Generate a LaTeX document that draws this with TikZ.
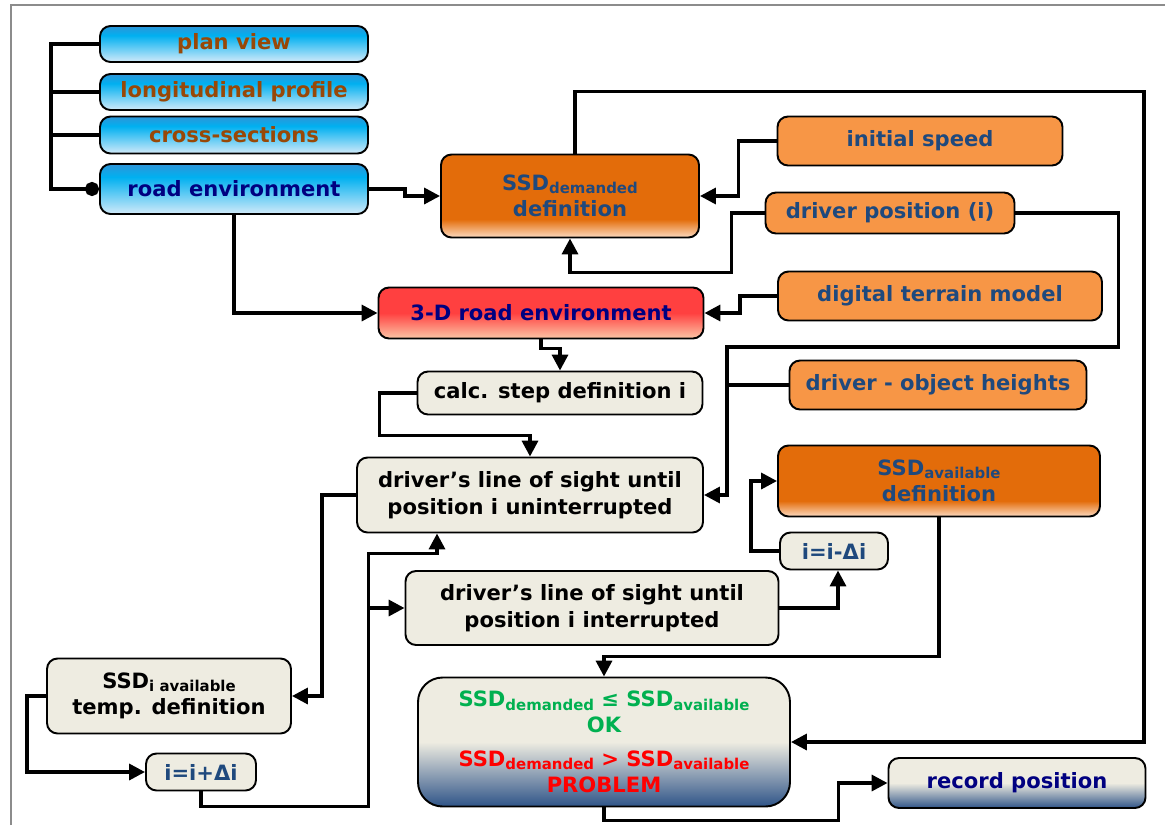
\documentclass[tikz,border=0pt]{standalone}
\usepackage{fontspec}
\setmainfont{DejaVu Sans}
\usetikzlibrary{arrows.meta, positioning, calc}

\definecolor{geomtop}{HTML}{2E95D8}
\definecolor{geommid}{HTML}{00B0F0}
\definecolor{geombot}{HTML}{D2EAF9}
\definecolor{dkorange}{HTML}{E36C0A}
\definecolor{ltorange}{HTML}{FCDAC0}
\definecolor{inorange}{HTML}{F79646}
\definecolor{redtop}{HTML}{FF4040}
\definecolor{redbot}{HTML}{FCC6A6}
\definecolor{beige}{HTML}{EEECE1}
\definecolor{steel}{HTML}{2F5488}
\definecolor{txtblue}{HTML}{1F497D}
\definecolor{txtnavy}{HTML}{000080}
\definecolor{brownish}{HTML}{984807}
\definecolor{okgreen}{HTML}{00B050}

\pgfdeclareverticalshading{bluefade}{100bp}{color(0bp)=(geombot); color(25bp)=(geombot); color(62bp)=(geommid); color(75bp)=(geomtop); color(100bp)=(geomtop)}
\pgfdeclareverticalshading{orangefade}{100bp}{color(0bp)=(ltorange); color(25bp)=(ltorange); color(36bp)=(dkorange); color(75bp)=(dkorange); color(100bp)=(dkorange)}
\pgfdeclareverticalshading{redfade}{100bp}{color(0bp)=(redbot); color(25bp)=(redbot); color(50bp)=(redtop); color(75bp)=(redtop); color(100bp)=(redtop)}
\pgfdeclareverticalshading{steelfade}{100bp}{color(0bp)=(steel); color(25bp)=(steel); color(50bp)=(beige); color(75bp)=(beige); color(100bp)=(beige)}

\newcommand{\ssub}[1]{\raisebox{-0.3ex}{\fontsize{8.5}{9}\selectfont #1}}

\begin{document}
\begin{tikzpicture}[x=0.02cm, y=-0.02cm,
    font=\fontsize{12}{15}\selectfont\bfseries,
    box/.style={draw, line width=1.1pt, rounded corners=6pt, align=center, inner sep=2pt},
    sz/.style 2 args={minimum width=#1*0.02cm, minimum height=#2*0.02cm},
    geom/.style={box, shading=bluefade, text=brownish},
    defbox/.style={box, shading=orangefade, text=txtblue},
    input/.style={box, fill=inorange, text=txtblue},
    calcbox/.style={box, fill=beige, text=black},
    wire/.style={line width=2pt},
    flow/.style={wire, -{Triangle[length=9pt,width=9pt]}}
  ]
  \useasboundingbox (0,0) rectangle (1165,825);
  \draw[black!45, line width=1pt] (11,825) -- (11,5) -- (1165,5);

  % road geometry inputs
  \node[geom, sz={268}{36}] (plan) at (234,44) {plan view};
  \node[geom, sz={268}{36}] (longprof) at (234,92) {longitudinal profile};
  \node[geom, sz={268}{37}] (cross) at (234,135) {cross-sections};
  \node[geom, sz={268}{50}, text=txtnavy] (roadenv) at (234,189) {road environment};

  % driver and terrain inputs
  \node[input, sz={285}{49}] (speed) at (920,141) {initial speed};
  \node[input, sz={249}{41}] (drvpos) at (890,213) {driver position (i)};
  \node[input, sz={324}{49}] (dtm) at (940,296) {digital terrain model};
  \node[input, sz={297}{49}] (heights) at (938,385) {driver - object heights};

  % definitions
  \node[defbox, sz={258}{83}] (ssddem) at (570,196) {SSD\ssub{demanded}\\definition};
  \node[box, shading=redfade, text=txtnavy, sz={325}{51}] (road3d) at (541,313) {3-D road environment};
  \node[defbox, sz={322}{71}] (ssdavail) at (939,481) {SSD\ssub{available}\\definition};

  % calculation loop
  \node[calcbox, sz={285}{43}] (calcstep) at (560,393) {calc. step definition i};
  \node[calcbox, sz={346}{75}] (uninter) at (530,495) {driver’s line of sight until\\position i uninterrupted};
  \node[calcbox, sz={373}{74}] (inter) at (592,608) {driver’s line of sight until\\position i interrupted};
  \node[calcbox, sz={108}{37}, text=txtblue] (idec) at (834,551) {i=i-Δi};
  \node[calcbox, sz={244}{75}] (tempdef) at (169,696) {SSD\ssub{i available}\\temp. definition};
  \node[calcbox, sz={110}{37}, text=txtblue] (iinc) at (201,772) {i=i+Δi};

  % check and output
  \node[box, shading=steelfade, rounded corners=14pt, sz={372}{129}] (check) at (604,742)
    {\textcolor{okgreen}{SSD\ssub{demanded} ≤ SSD\ssub{available}}\\\textcolor{okgreen}{OK}\\[4pt]
     \textcolor{red}{SSD\ssub{demanded} > SSD\ssub{available}}\\\textcolor{red}{PROBLEM}};
  \node[box, shading=steelfade, text=txtnavy, sz={257}{50}] (record) at (1017,783) {record position};

  % connectors
  \draw[wire, -{Circle[length=8pt]}] (plan.west) -- ++(-48,0) |- (roadenv.west);
  \draw[wire] (longprof.west) -- ++(-48,0);
  \draw[wire] (cross.west) -- ++(-48,0);
  \draw[flow] (roadenv.east) -- ++(36,0) |- (ssddem.west);
  \draw[flow] (roadenv.south) |- (road3d.west);
  \draw[flow] (speed.west) -- ++(-38,0) |- (ssddem.east);
  \draw[flow] (drvpos.west) -- ++(-33,0) |- ($(ssddem.south)+(0,34)$) -- (ssddem.south);
  \draw[flow] (drvpos.east) -- ++(103,0) -- ++(0,134) -| ($(uninter.east)+(23,0)$) -- (uninter.east);
  \draw[wire] (heights.west) -- ++(-64,0);
  \draw[flow] (dtm.west) -- ++(-37,0) |- (road3d.east);
  \draw[flow] ($(ssddem.north)+(5,0)$) -- ++(0,-62) -| ($(check.east)+(353,0)$) -- (check.east);
  \draw[flow] (road3d.south) -- ++(0,9) -| (calcstep.north);
  \draw[flow] (calcstep.west) -- ++(-37,0) |- ($(uninter.north)+(0,-21)$) -- (uninter.north);
  \draw[flow] (uninter.west) -- ++(-34,0) |- (tempdef.east);
  \draw[flow] (tempdef.west) -- ++(-19,0) |- (iinc.west);
  \coordinate (jn) at ($(inter.west)+(-36,0)$);
  \draw[flow] (iinc.south) -- ++(0,15) -| (jn) |- ($(uninter.south)+(-93,20)$) -- ($(uninter.south)+(-93,0)$);
  \draw[flow] (jn) -- (inter.west);
  \draw[flow] (inter.east) -| ($(idec.south)+(4,0)$);
  \draw[flow] (idec.west) -- ++(-28,0) |- (ssdavail.west);
  \draw[flow] (ssdavail.south) -- ++(0,139) -| (check.north);
  \draw[flow] (check.south) -- ++(0,13) -| ($(record.west)+(-49,0)$) -- (record.west);
\end{tikzpicture}
\end{document}
